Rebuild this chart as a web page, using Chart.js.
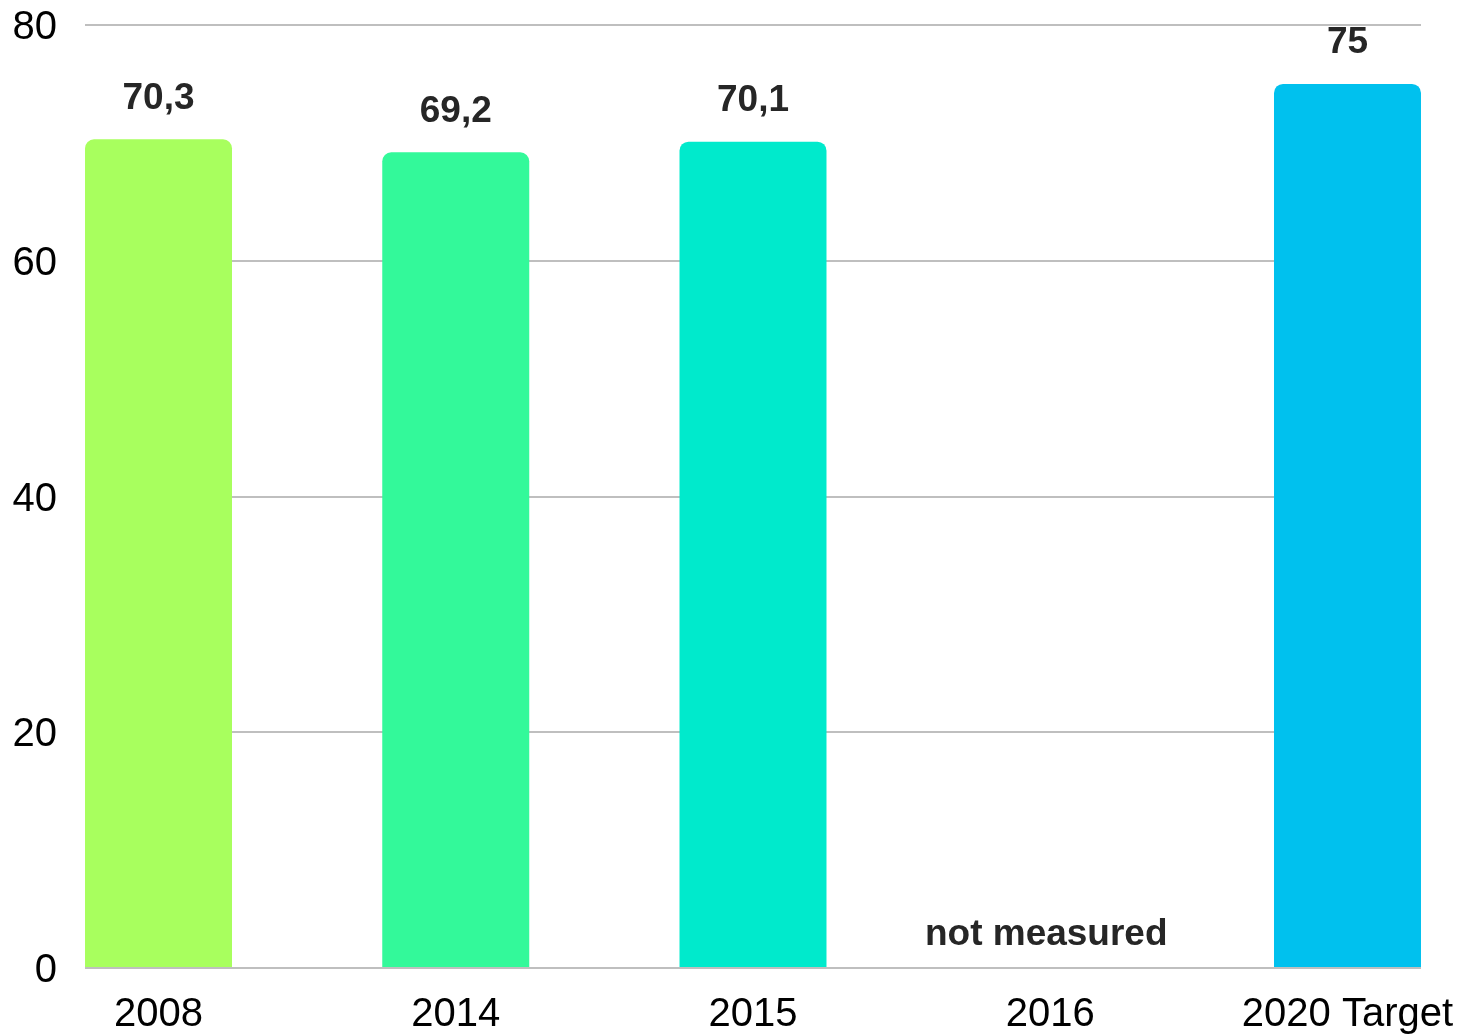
<!DOCTYPE html>
<html>
<head>
<meta charset="utf-8">
<script src="https://cdn.jsdelivr.net/npm/chart.js@4/dist/chart.umd.min.js"></script>
<style>
  html, body { margin: 0; padding: 0; background: #fff; }
  #wrap { width: 1467px; height: 1036px; position: relative; }
</style>
</head>
<body>
<div id="wrap"><canvas id="grafico"></canvas></div>
<script>
(function() {

// ----- data
const categorias = ["2008", "2014", "2015", "2016", "2020 Target"];
const valores = [70.3, 69.2, 70.1, null, 75];
const colores = ["#a8ff5e", "#33f99a", "#00eacc", "#00eacc", "#00c1ee"];
const ticksY = [0, 20, 40, 60, 80];
const textoSinDato = "not measured";

const fuente = "'Liberation Sans', Arial, sans-serif";

// ----- labels above bars (no datalabels plugin available)
const etiquetas = {
    id: 'etiquetas',
    afterDatasetsDraw(chart) {
        const ctx = chart.ctx;
        const x = chart.scales.x;
        const y = chart.scales.y;
        ctx.save();
        ctx.font = "bold 37px " + fuente;
        ctx.fillStyle = "#262626";
        ctx.textAlign = "center";
        ctx.textBaseline = "middle";
        valores.forEach((v, i) => {
            const px = x.getPixelForValue(i);
            if (v === null) {
                ctx.fillText(textoSinDato, px - 4, y.getPixelForValue(0) - 33);
            } else {
                const txt = String(v).replace('.', ',');
                ctx.fillText(txt, px, y.getPixelForValue(v) - 41);
            }
        });
        ctx.restore();
    }
};

const puntos = valores.map((v, i) => ({ x: i, y: v }));

const graph = document.getElementById('grafico');
const myChart = new Chart(graph, {
    type: 'bar',
    data: {
        datasets: [{
            data: puntos,
            backgroundColor: colores,
            borderWidth: 0,
            borderRadius: { topLeft: 9, topRight: 9, bottomLeft: 0, bottomRight: 0 },
            borderSkipped: false,
            categoryPercentage: 1,
            barPercentage: 0.4945
        }]
    },
    options: {
        responsive: true,
        maintainAspectRatio: false,
        animation: false,
        layout: { padding: { top: 25, right: 46, left: 0, bottom: 0 } },
        plugins: {
            legend: { display: false },
            tooltip: { enabled: false }
        },
        scales: {
            x: {
                type: 'linear',
                offset: false,
                min: -0.2473,
                max: 4.2473,
                grid: { display: false, offset: false },
                border: { display: false },
                afterFit: s => { s.height = 68; s.paddingLeft = 0; s.paddingRight = 0; },
                ticks: {
                    stepSize: 1,
                    includeBounds: false,
                    autoSkip: false,
                    maxRotation: 0,
                    padding: 15,
                    color: "#000",
                    font: { family: fuente, size: 40 },
                    callback: v => categorias[v] !== undefined ? categorias[v] : ''
                }
            },
            y: {
                min: ticksY[0],
                max: ticksY[ticksY.length - 1],
                afterFit: s => { s.width = 85; s.paddingTop = 0; s.paddingBottom = 0; },
                afterBuildTicks: s => { s.ticks = ticksY.map(t => ({ value: t })); },
                border: { display: false },
                grid: { color: "#bfbfbf", lineWidth: 2, drawTicks: false },
                ticks: {
                    padding: 28,
                    labelOffset: 3,
                    color: "#000",
                    font: { family: fuente, size: 40 }
                }
            }
        }
    },
    plugins: [etiquetas]
});

})();
</script>
</body>
</html>
